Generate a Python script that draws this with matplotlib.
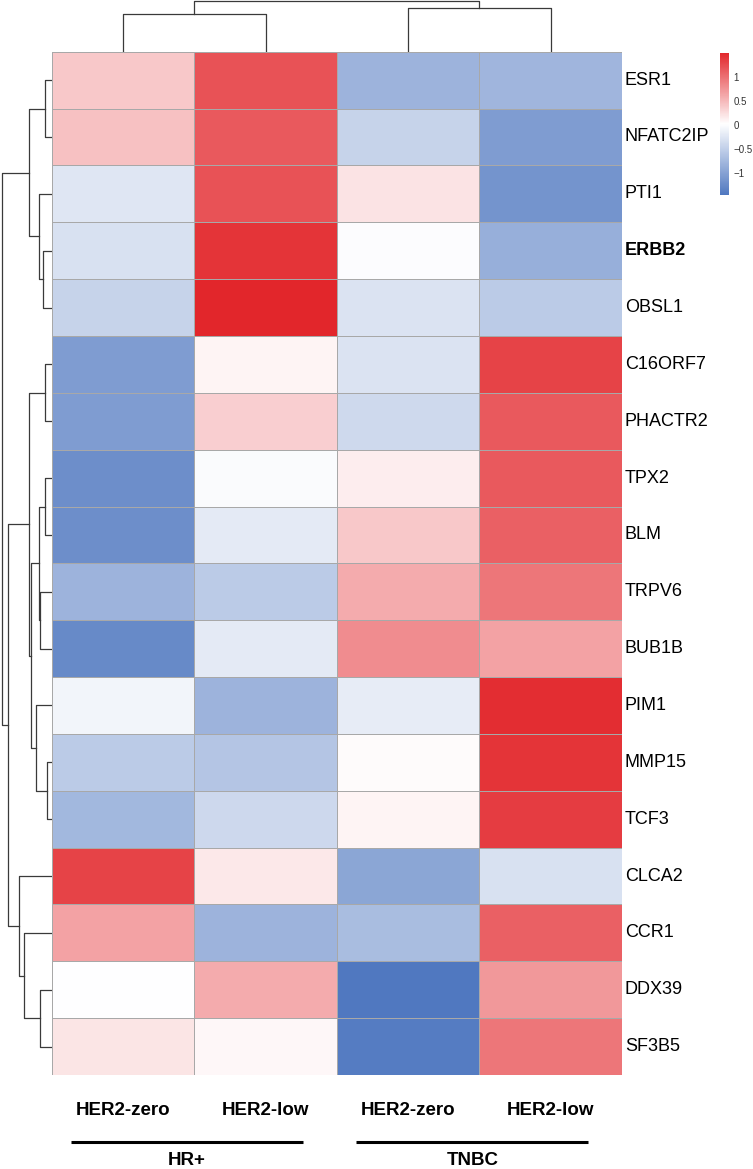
import numpy as np
import matplotlib
matplotlib.use('Agg')
import matplotlib.pyplot as plt
from matplotlib.colors import LinearSegmentedColormap, Normalize
from matplotlib.cm import ScalarMappable

plt.rcParams['font.family'] = ['Liberation Sans', 'DejaVu Sans']

# --- Data (row z-scores) ---
genes = ['ESR1', 'NFATC2IP', 'PTI1', 'ERBB2', 'OBSL1', 'C16ORF7', 'PHACTR2',
         'TPX2', 'BLM', 'TRPV6', 'BUB1B', 'PIM1', 'MMP15', 'TCF3', 'CLCA2',
         'CCR1', 'DDX39', 'SF3B5']
subtypes = ['HER2-zero', 'HER2-low', 'HER2-zero', 'HER2-low']
groups = ['HR+', 'TNBC']

hr_zero = [0.40, 0.45, -0.25, -0.30, -0.45, -1.05, -1.05, -1.20, -1.20, -0.80,
           -1.25, -0.08, -0.55, -0.75, 1.30, 0.65, 0.02, 0.20]
hr_low = [1.20, 1.15, 1.20, 1.40, 1.50, 0.10, 0.35, -0.02, -0.20, -0.55,
          -0.20, -0.80, -0.60, -0.40, 0.18, -0.80, 0.60, 0.08]
tnbc_zero = [-0.80, -0.45, 0.22, 0.00, -0.28, -0.28, -0.38, 0.15, 0.40, 0.60,
             0.80, -0.18, 0.05, 0.10, -0.95, -0.70, -1.45, -1.40]
tnbc_low = [-0.78, -1.05, -1.15, -0.85, -0.55, 1.30, 1.15, 1.15, 1.10, 0.95,
            0.65, 1.45, 1.40, 1.35, -0.30, 1.10, 0.72, 0.95]

# dendrogram merges (child a, child b, height), scipy-like numbering
row_links = [(0, 1, 6.3), (3, 4, 8.7), (2, 19, 12.7), (18, 20, 22.7),
             (5, 6, 6.3), (7, 8, 7.0), (9, 10, 11.3), (23, 24, 12.3),
             (12, 13, 4.7), (11, 26, 15.3), (25, 27, 20.3), (22, 28, 22.7),
             (16, 17, 11.3), (15, 30, 28.0), (14, 31, 33.0), (29, 32, 43.7),
             (21, 33, 49.3)]
col_links = [(0, 1, 37.7), (2, 3, 43.3), (4, 5, 50.3)]

data = np.column_stack([hr_zero, hr_low, tnbc_zero, tnbc_low])
n_rows, n_cols = data.shape

# --- Layout (pixels) ---
W, H = 753, 1169
hm_left, hm_right, hm_top, hm_bottom = 51.7, 622.0, 51.7, 1075.0

fig = plt.figure(figsize=(W / 100, H / 100), dpi=100)


def px_axes(x0, y0, x1, y1):
    return fig.add_axes([x0 / W, 1 - y1 / H, (x1 - x0) / W, (y1 - y0) / H])


def dendro_segments(links, n_leaves):
    pos = {i: i + 0.5 for i in range(n_leaves)}
    hgt = {i: 0.0 for i in range(n_leaves)}
    segs = []
    for k, (a, b, h) in enumerate(links):
        segs.append(([hgt[a], h, h, hgt[b]], [pos[a], pos[a], pos[b], pos[b]]))
        pos[n_leaves + k] = (pos[a] + pos[b]) / 2
        hgt[n_leaves + k] = h
    return segs


cmap = LinearSegmentedColormap.from_list('bwr_soft', ['#5078C0', '#FFFFFF', '#E2262B'])
norm = Normalize(vmin=data.min(), vmax=data.max())

# heatmap
ax = px_axes(hm_left, hm_top, hm_right, hm_bottom)
ax.pcolormesh(np.arange(n_cols + 1), np.arange(n_rows + 1), data, cmap=cmap, norm=norm,
              edgecolors='#A8A8A8', linewidth=0.6)
ax.set_xlim(0, n_cols)
ax.set_ylim(n_rows, 0)
ax.set_xticks([])
ax.set_yticks([])
for s in ax.spines.values():
    s.set_visible(False)

for i, g in enumerate(genes):
    ax.text(n_cols + 0.02, i + 0.5, g, ha='left', va='center', fontsize=13,
            fontweight='bold' if g == 'ERBB2' else 'normal', clip_on=False)

# column labels + group bars
for j, s in enumerate(subtypes):
    ax.text(j + 0.5, 18.62, s, ha='center', va='center', fontsize=13.5,
            fontweight='bold', clip_on=False)
for k, g in enumerate(groups):
    x0, x1 = 2 * k + 0.135, 2 * k + 1.765
    ax.plot([x0, x1], [19.17, 19.17], color='black', lw=2.2, clip_on=False,
            solid_capstyle='butt')
    ax.text((x0 + x1) / 2, 19.5, g, ha='center', va='center', fontsize=13.5,
            fontweight='bold', clip_on=False)

# row dendrogram
axr = px_axes(0, hm_top, hm_left, hm_bottom)
for xs, ys in dendro_segments(row_links, n_rows):
    axr.plot(xs, ys, color='#3A3A3A', lw=0.9)
axr.set_xlim(hm_left, 0)
axr.set_ylim(n_rows, 0)
axr.axis('off')

# column dendrogram
axc = px_axes(hm_left, 0, hm_right, hm_top)
for hs, xs in dendro_segments(col_links, n_cols):
    axc.plot(xs, hs, color='#3A3A3A', lw=0.9)
axc.set_xlim(0, n_cols)
axc.set_ylim(0, hm_top)
axc.axis('off')

# colour legend
cax = px_axes(720, 52.7, 729, 195)
cb = fig.colorbar(ScalarMappable(norm=norm, cmap=cmap), cax=cax)
cb.outline.set_visible(False)
cb.set_ticks([-1, -0.5, 0, 0.5, 1])
cb.set_ticklabels(['\u22121', '\u22120.5', '0', '0.5', '1'])
cax.tick_params(length=0, labelsize=7, labelcolor='#333333', pad=3)

fig.savefig('out.png', dpi=100)
